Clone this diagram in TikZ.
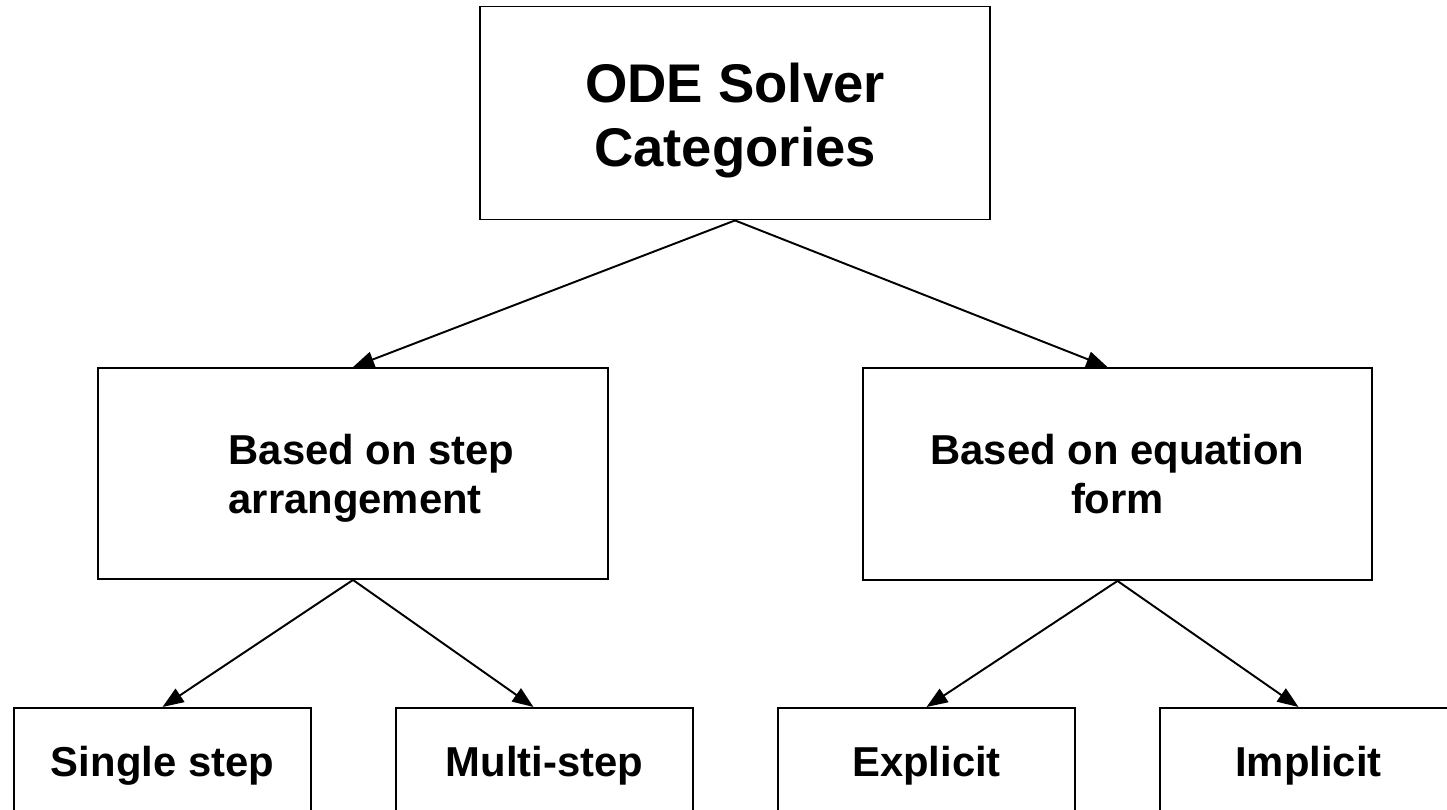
\documentclass[tikz,border=0pt]{standalone}
\usepackage{fontspec}
\setmainfont{Liberation Sans}
\usetikzlibrary{arrows.meta}

\begin{document}
\begin{tikzpicture}[x=0.02cm, y=-0.02cm,
        box/.style={draw, line width=1.1pt, rectangle, inner sep=0pt, font=\bfseries},
        arr/.style={line width=1.1pt, -{Triangle[length=12pt, width=9pt]}}]
        \useasboundingbox (0,0) rectangle (1447,810);

        % Корень
        \node[box, minimum width=10.2cm, minimum height=4.26cm, align=center,
              font=\bfseries\fontsize{31}{36}\selectfont] (root) at (735,113)
              {\rule{0pt}{1.0em}ODE Solver\\Categories};

        % Второй уровень
        \node[box, minimum width=10.2cm, minimum height=4.22cm, align=left,
              font=\bfseries\fontsize{23.8}{27.8}\selectfont] (steps) at (353,473.5)
              {\rule{0pt}{0.97em}\hspace*{0.74cm}Based on step\\\hspace*{0.74cm}arrangement};
        \node[box, minimum width=10.2cm, minimum height=4.24cm, align=center,
              font=\bfseries\fontsize{23.8}{27.8}\selectfont] (form) at (1117.5,474)
              {Based on equation\\form};

        % Третий уровень
        \node[box, minimum width=5.94cm, minimum height=2.3cm, anchor=north,
              font=\bfseries\fontsize{23.8}{27.8}\selectfont] (single) at (162.5,707) {Single step};
        \node[box, minimum width=5.94cm, minimum height=2.3cm, anchor=north,
              font=\bfseries\fontsize{23.8}{27.8}\selectfont] (multi) at (544.5,707) {Multi-step};
        \node[box, minimum width=5.94cm, minimum height=2.3cm, anchor=north,
              font=\bfseries\fontsize{23.8}{27.8}\selectfont] (expl) at (926.5,707) {Explicit};
        \node[box, minimum width=5.94cm, minimum height=2.3cm, anchor=north,
              font=\bfseries\fontsize{23.8}{27.8}\selectfont] (impl) at (1308.5,707) {Implicit};

        % Стрелки
        \draw[arr] (root.south) -- (steps.north);
        \draw[arr] (root.south) -- ([xshift=-0.2cm]form.north);
        \draw[arr] (steps.south) -- (single.north);
        \draw[arr] (steps.south) -- ([xshift=-0.22cm]multi.north);
        \draw[arr] (form.south) -- (expl.north);
        \draw[arr] (form.south) -- ([xshift=-0.2cm]impl.north);
    \end{tikzpicture}
\end{document}
